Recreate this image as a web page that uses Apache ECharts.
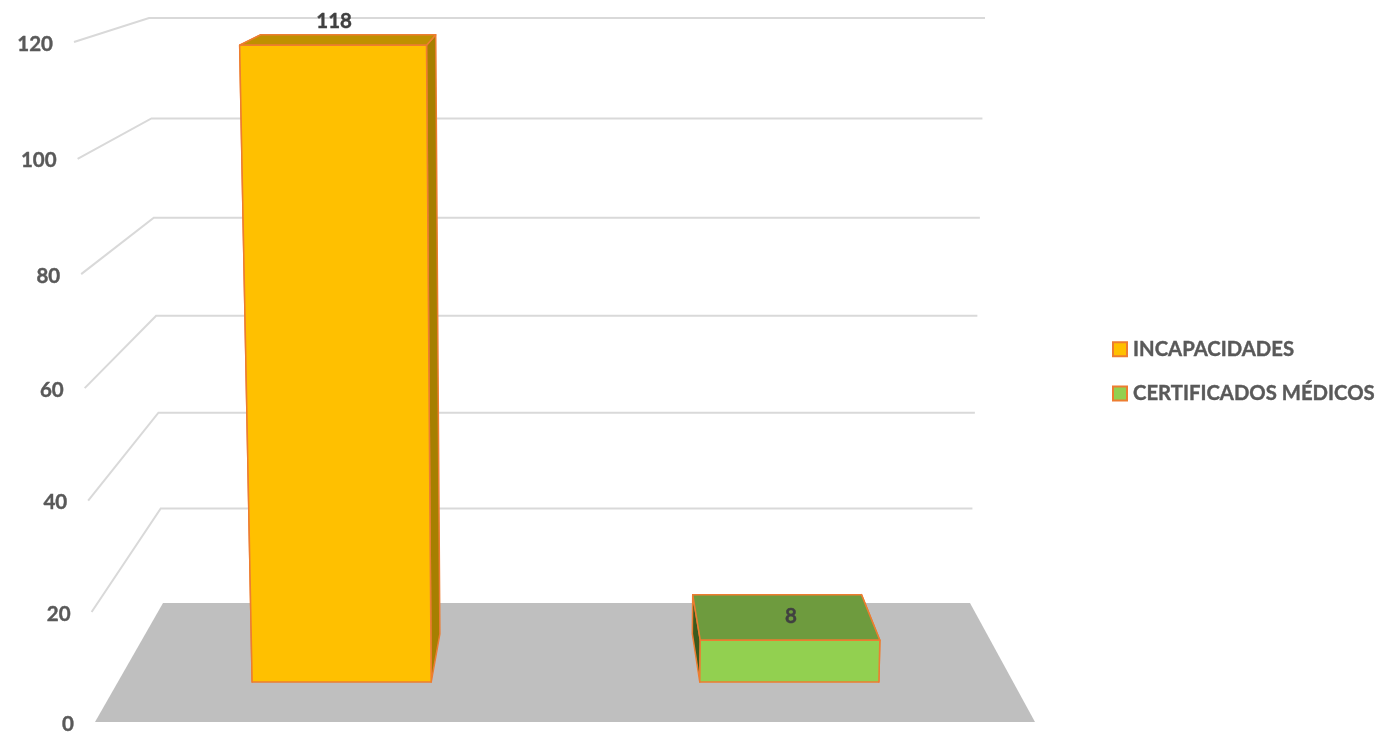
<!DOCTYPE html>
<html><head><meta charset="utf-8">
<style>html,body{margin:0;padding:0;background:#fff}#c{width:1378px;height:732px}</style>
<script src="https://cdn.jsdelivr.net/npm/echarts@6/dist/echarts.min.js"></script>
</head><body><div id="c"></div>
<script>
const categories = ['INCAPACIDADES', 'CERTIFICADOS MÉDICOS'];
const values = [118, 8];
const yTicks = [0, 20, 40, 60, 80, 100, 120];
const faceColors = ['#FFC000', '#92D050'];
const topColors = ['#BF9000', '#6E9B3E'];
const sideColors = ['#A67F00', '#3A5A1E'];
const edgeColor = '#ED7D31';

// Oblique view of the chart box: corners of the floor and top, front then back.
const box = {
  front: {bl: [95, 722], br: [1035, 722], tl: [74, 42], tr: [1059, 42]},
  back:  {bl: [163, 603], br: [970, 603], tl: [149, 18], tr: [985, 18]}
};
const barDepth = [0.336, 0.74];
const perspective = 0.0354;
const gridPx = {left: 95, right: 343, top: 42, bottom: 10};
const gridW = 1378 - gridPx.left - gridPx.right;
const gridH = 732 - gridPx.top - gridPx.bottom;
const lerp = (a, b, t) => [a[0] + (b[0] - a[0]) * t, a[1] + (b[1] - a[1]) * t];

// Takes a pixel from the hidden cartesian axes and a depth, returns the oblique pixel.
function project(pt, d) {
  const u = (pt[0] - gridPx.left) / gridW;
  const t = (gridPx.top + gridH - pt[1]) / gridH;
  const w = t * (1 - perspective) / (1 - perspective * t);
  const plane = k => lerp(lerp(box[k].bl, box[k].tl, w), lerp(box[k].br, box[k].tr, w), u);
  return lerp(plane('front'), plane('back'), d);
}

const poly = (points, fill, stroke, width) => ({
  type: 'polygon', shape: {points},
  style: {fill, stroke: stroke || null, lineWidth: width || 0, lineJoin: 'round'}
});

function renderBackdrop(params, api) {
  const v = api.value(0);
  const y = api.coord([0, v])[1];
  const lo = [gridPx.left, y], hi = [gridPx.left + gridW, y];
  const fl = project(lo, 0), bl = project(lo, 1), br = project(hi, 1), fr = project(hi, 0);
  const children = [];
  if (v === 0) {
    children.push(poly([fl, fr, br, bl], '#BFBFBF'));
  } else {
    children.push({type: 'polyline', shape: {points: [fl, bl, br]},
      style: {fill: null, stroke: '#D9D9D9', lineWidth: 2}});
  }
  children.push({type: 'text', style: {
    x: fl[0] - 21, y: fl[1] + 2, text: String(v), align: 'right', verticalAlign: 'middle',
    font: 'bold 20.5px Lato', fill: '#595959', stroke: '#595959', lineWidth: 0.4}});
  return {type: 'group', children};
}

function renderBar(i) {
  return function (params, api) {
    const c = api.coord([i, api.value(1)]), b = api.coord([i, 0]);
    const half = api.size([1, 0])[0] * 0.2;
    const [d0, d1] = barDepth;
    const P = (pt, dx, d) => project([pt[0] + dx, pt[1]], d);
    const ftl = P(c, -half, d0), ftr = P(c, half, d0), fbl = P(b, -half, d0), fbr = P(b, half, d0);
    const btl = P(c, -half, d1), btr = P(c, half, d1), bbl = P(b, -half, d1), bbr = P(b, half, d1);
    return {type: 'group', children: [
      poly([fbl, ftl, btl, bbl], sideColors[i], edgeColor, 1.5),
      poly([fbr, ftr, btr, bbr], sideColors[i], edgeColor, 1.5),
      poly([ftl, ftr, btr, btl], topColors[i], edgeColor, 1.5),
      poly([fbl, fbr, ftr, ftl], faceColors[i], edgeColor, 1.5),
      {type: 'text', style: {
        x: (ftl[0] + ftr[0]) / 2 + 1, y: ftl[1] - 24, text: String(api.value(1)),
        align: 'center', verticalAlign: 'middle', font: 'bold 20.5px Lato', fill: '#404040', stroke: '#404040', lineWidth: 0.4}}
    ]};
  };
}

const chart = echarts.init(document.getElementById('c'), null, {renderer: 'canvas'});
chart.setOption({
  animation: false,
  backgroundColor: '#fff',
  grid: gridPx,
  xAxis: {type: 'category', data: categories, show: false},
  yAxis: {type: 'value', min: 0, max: 120, interval: 20, show: false},
  legend: {
    orient: 'vertical', left: 1107, top: 334, itemWidth: 14, itemHeight: 14, itemGap: 24,
    icon: 'rect',
    textStyle: {fontFamily: 'Lato', fontWeight: 'bold', fontSize: 20.3, color: '#595959', padding: [0, 0, 0, 1],
      textBorderColor: '#595959', textBorderWidth: 0.4},
    data: categories.map((name, i) => ({name, itemStyle: {color: faceColors[i], borderColor: edgeColor, borderWidth: 2}}))
  },
  series: [
    {type: 'custom', name: 'axis', z: 1, silent: true, renderItem: renderBackdrop,
      encode: {y: 0}, data: yTicks.map(v => [v]), clip: false},
    ...categories.map((name, i) => ({
      type: 'custom', name, z: 2, silent: true, renderItem: renderBar(i),
      itemStyle: {color: faceColors[i]},
      encode: {x: 0, y: 1}, data: [[i, values[i]]], clip: false
    }))
  ]
});
</script></body></html>
